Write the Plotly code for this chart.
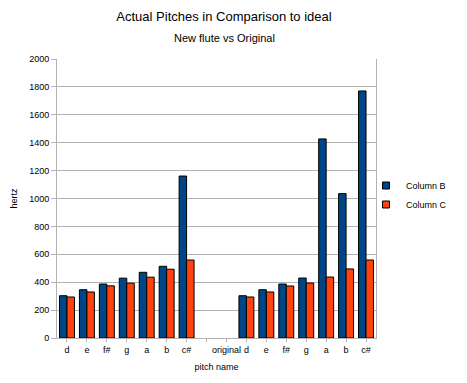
import plotly.graph_objects as go

categories = ["d", "e", "f#", "g", "a", "b", "c#", "", "original",
              "d", "e", "f#", "g", "a", "b", "c#"]
column_b = [303, 346, 387, 429, 471, 514, 1161, None, None,
            303, 346, 387, 430, 1427, 1035, 1771]
column_c = [294, 330, 374, 393, 436, 493, 559, None, None,
            294, 330, 373, 394, 437, 495, 559]
series_names = ["Column B", "Column C"]
series_colors = ["#004586", "#ff420e"]
y_ticks = list(range(0, 2001, 200))

positions = list(range(len(categories)))

font = "Liberation Sans, Arial, sans-serif"

# The page body has an 8px default margin, so the figure is sized 8px smaller
W, H = 459, 375
L, T, R, B = 49, 51, 91, 45
plot_w = W - L - R
plot_h = H - T - B

fig = go.Figure()
for name, vals, col in zip(series_names, [column_b, column_c], series_colors):
    fig.add_trace(go.Bar(x=positions, y=vals, name=name, showlegend=False,
                         marker=dict(color=col, line=dict(color="#000000", width=1))))
for name, col in zip(series_names, series_colors):
    fig.add_trace(go.Scatter(x=[None], y=[None], mode="markers", name=name,
                             marker=dict(symbol="square", size=7, color=col,
                                         line=dict(color="#000000", width=1))))

fig.update_layout(
    width=W, height=H,
    margin=dict(l=L, r=R, t=T, b=B, autoexpand=False),
    paper_bgcolor="white", plot_bgcolor="white",
    font=dict(family=font, size=9, color="#000000"),
    barmode="group", bargap=0.25, bargroupgap=0,
    showlegend=True,
    legend=dict(x=(366 - 8 - L) / plot_w, y=(330 - 187) / plot_h,
                xanchor="left", yanchor="middle",
                font=dict(size=9), bgcolor="rgba(0,0,0,0)",
                itemwidth=30, tracegroupgap=0),
    xaxis=dict(
        tickmode="array", tickvals=positions, ticktext=categories,
        range=[-0.5, len(categories) - 0.5],
        showgrid=False, zeroline=False, tickangle=0, automargin=False,
        ticks="outside", ticklen=3, tickcolor="#b3b3b3",
        showline=True, linecolor="#b3b3b3", mirror=False,
        tickfont=dict(size=9),
        title=dict(text="pitch name", font=dict(size=9), standoff=9),
    ),
    yaxis=dict(
        range=[0, 2000], tickvals=y_ticks, automargin=False,
        showgrid=True, gridcolor="#b3b3b3", gridwidth=1,
        zeroline=False,
        ticks="outside", ticklen=5, tickcolor="#b3b3b3",
        showline=True, linecolor="#b3b3b3", mirror=True,
        tickfont=dict(size=9),
        title=dict(text="hertz", font=dict(size=9), standoff=10),
    ),
    title=dict(text="Actual Pitches in Comparison to ideal",
               x=216 / W, xanchor="center", y=1 - 8 / H, yanchor="middle",
               font=dict(size=13, family=font)),
    annotations=[dict(text="New flute vs Original", xref="paper", yref="paper",
                      x=(216 - L) / plot_w, y=(330 - 30) / plot_h,
                      xanchor="center", yanchor="middle", showarrow=False,
                      font=dict(size=11, family=font))],
)

fig.write_html("out.html")
